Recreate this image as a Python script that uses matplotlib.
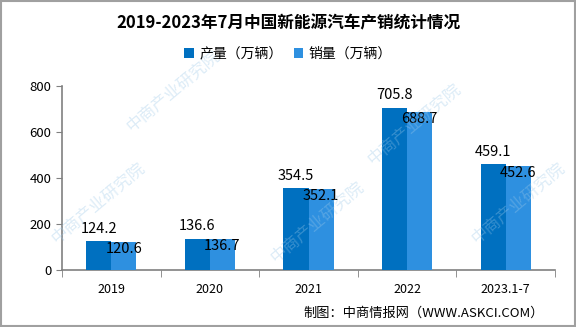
import numpy as np
import matplotlib

matplotlib.use("Agg")
import matplotlib.pyplot as plt

plt.rcParams["font.family"] = ["Noto Sans CJK SC", "DejaVu Sans"]

# production / sales of new energy vehicles (10k units)
years = ["2019", "2020", "2021", "2022", "2023.1-7"]
production = [124.2, 136.6, 354.5, 705.8, 459.1]
sales = [120.6, 136.7, 352.1, 688.7, 452.6]

dark_blue = "#0070C0"
light_blue = "#2E90E0"
axis_gray = "#808080"

fig = plt.figure(figsize=(5.76, 3.27), dpi=100)
ax = fig.add_axes([0.1076, 0.1743, 0.856, 0.5627])

x = np.arange(len(years))
w = 0.255
ax.bar(x - w / 2, production, width=w, color=dark_blue, label="产量（万辆）", zorder=3)
ax.bar(x + w / 2, sales, width=w, color=light_blue, label="销量（万辆）", zorder=3)

# value labels
for i in range(len(years)):
    ax.annotate(f"{production[i]:.1f}", (x[i] - w / 2, production[i]),
                xytext=(0, 4), textcoords="offset points",
                ha="center", va="bottom", fontsize=10.5, color="black", zorder=5)
    ax.annotate(f"{sales[i]:.1f}", (x[i] + w / 2, sales[i]),
                xytext=(0, -5), textcoords="offset points",
                ha="center", va="center", fontsize=10.5, color="black", zorder=5)

ax.set_xlim(-0.5, len(years) - 0.5)
ax.set_ylim(0, 800)
ax.set_yticks([0, 200, 400, 600, 800])
ax.set_xticks(x)
ax.set_xticklabels(years)
ax.set_xticks(np.arange(-0.5, len(years)), minor=True)
ax.tick_params(axis="x", which="major", length=0, pad=9, labelsize=9)
ax.tick_params(axis="x", which="minor", length=5, color=axis_gray)
ax.tick_params(axis="y", length=4, color=axis_gray, labelsize=9.5)

for s in ["top", "right"]:
    ax.spines[s].set_visible(False)
for s in ["left", "bottom"]:
    ax.spines[s].set_color(axis_gray)
    ax.spines[s].set_linewidth(1.2)

fig.text(0.5, 0.93, "2019-2023年7月中国新能源汽车产销统计情况",
         ha="center", va="center", fontsize=12, fontweight="bold")
fig.legend(loc="center", bbox_to_anchor=(0.5, 0.835), ncol=2, frameon=False,
           fontsize=10, handlelength=0.7, handleheight=0.7, handletextpad=0.4,
           columnspacing=0.8)
fig.text(0.945, 0.043, "制图：中商情报网（WWW.ASKCI.COM）",
         ha="right", va="center", fontsize=9.5)

# faint watermark
for (wx, wy) in [(0.3, 0.72), (0.72, 0.62), (0.17, 0.38), (0.55, 0.32), (0.9, 0.38)]:
    fig.text(wx, wy, "中商产业研究院", rotation=40, ha="center", va="center",
             fontsize=12, color="#9CC8E8", alpha=0.35, zorder=0)

# outer frame
fig.patches.append(plt.Rectangle((0.001, 0.002), 0.997, 0.995, transform=fig.transFigure,
                                 fill=False, edgecolor="#A0A0A0", linewidth=1.5))

fig.savefig("out.png", dpi=100)
